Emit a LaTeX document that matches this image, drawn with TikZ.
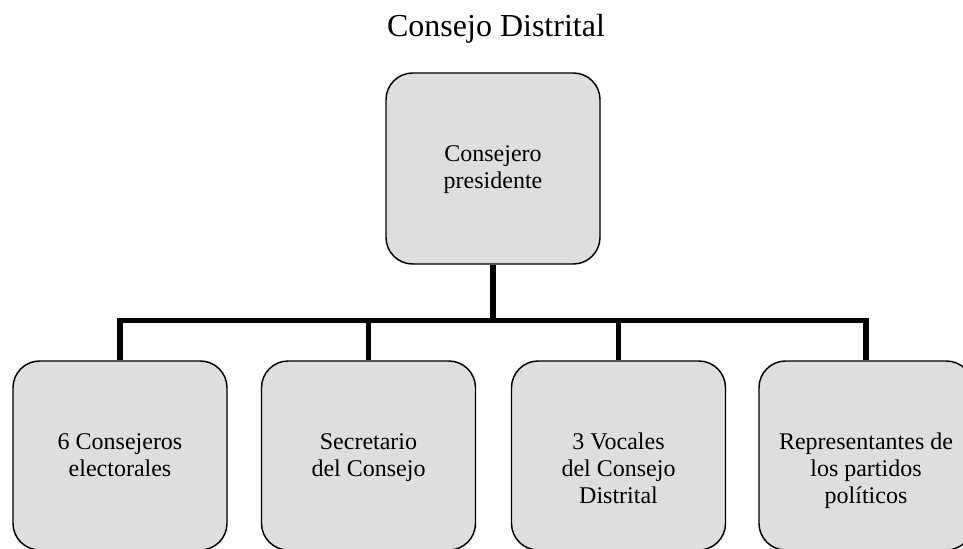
\documentclass[tikz,border=0pt]{standalone}
\usepackage{fontspec}
\setmainfont{Liberation Serif}
\definecolor{boxgray}{RGB}{222,222,222}
\tikzset{
  orgbox/.style={draw, line width=1.1pt, fill=boxgray, rounded corners=20pt,
    minimum width=160.5pt, inner sep=0pt},
  boxtext/.style={anchor=north, align=center, inner sep=0pt,
    font=\fontsize{18}{20.25}\selectfont},
  link/.style={line width=3.8pt, line join=miter}
}
\begin{document}
\begin{tikzpicture}[x=0.75pt, y=-0.75pt]
\useasboundingbox (0, 0) rectangle (963, 549);
\clip (0, 0) rectangle (963, 549);
\node [anchor=base, inner sep=0pt, font=\fontsize{24}{28}\selectfont] (title) at (496, 37) {Consejo Distrital};
\node [orgbox, minimum height=143.25pt] (pres) at (493, 168.5) {};
\node [boxtext] (tpres) at ([yshift=-54.5pt] pres.north) {Consejero\\presidente};
\node [orgbox, minimum height=141.75pt] (b1) at (120, 455.5) {};
\node [orgbox, minimum height=141.75pt] (b2) at (368.5, 455.5) {};
\node [orgbox, minimum height=141.75pt] (b3) at (618.5, 455.5) {};
\node [orgbox, minimum height=141.75pt] (b4) at (866, 455.5) {};
\node [boxtext] (t1) at ([yshift=-54.5pt] b1.north) {6 Consejeros\\electorales};
\node [boxtext] (t2) at ([yshift=-54.5pt] b2.north) {Secretario\\del Consejo};
\node [boxtext] (t3) at ([yshift=-54.5pt] b3.north) {3 Vocales\\del Consejo\\Distrital};
\node [boxtext] (t4) at ([yshift=-54.5pt] b4.north) {Representantes de\\los partidos\\políticos};
\coordinate (bar) at (493, 320.5);
\draw [link] (pres.south) -- (bar);
\draw [link] (b1.north) -- (b1.north |- bar) -- (b4.north |- bar) -- (b4.north);
\foreach \b in {b2, b3}
  \draw [link] (\b.north) -- (\b.north |- bar);
\end{tikzpicture}
\end{document}
